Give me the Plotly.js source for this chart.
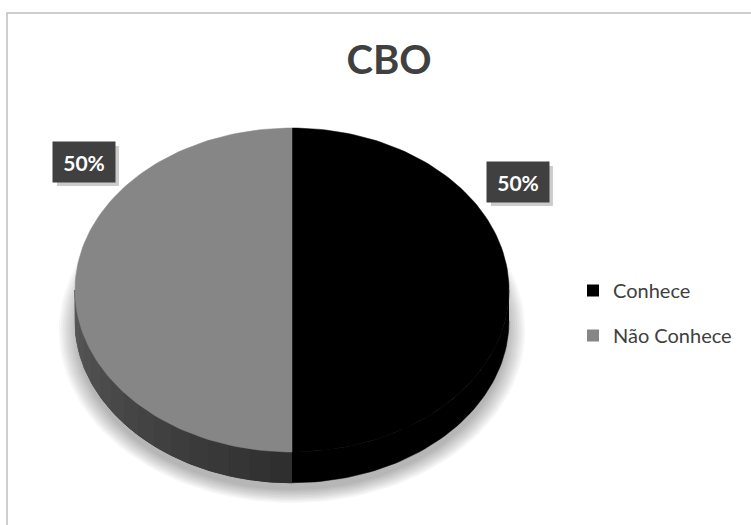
<!DOCTYPE html>
<html>
<head>
<meta charset="utf-8">
<script src="https://cdn.plot.ly/plotly-2.35.2.min.js"></script>
<style>html,body{margin:0;padding:0;background:#fff;}#chart{width:751px;height:525px;}</style>
</head>
<body>
<div id="chart"></div>
<script>
// ---- data ----
const categories = ["Conhece", "Não Conhece"];
const values = [50, 50];
const sliceColors = ["#000000", "#868686"];
const chartTitle = "CBO";

// ---- geometry (pseudo-3D ellipse via axis scaling) ----
const depth = 0.19;          // side thickness in y-units
const N = 120;
const total = values.reduce((a, b) => a + b, 0);
const traces = [];

function ellipsePts(cx, cy, rx, ry) {
  const xs = [], ys = [];
  for (let i = 0; i <= N; i++) {
    const t = 2 * Math.PI * i / N;
    xs.push(cx + rx * Math.cos(t)); ys.push(cy + ry * Math.sin(t));
  }
  return [xs, ys];
}

// soft shadow
for (let k = 0; k < 10; k++) {
  const [sx, sy] = ellipsePts(0.0, -0.25, 1.075 - k * 0.009, 1.065 - k * 0.009);
  traces.push({x: sx, y: sy, type: "scatter", mode: "lines", fill: "toself",
    fillcolor: "rgba(0,0,0,0.032)", line: {width: 0}, hoverinfo: "skip", showlegend: false});
}

// slice angles (start at 12 o'clock, clockwise)
const slices = [];
let cum = 0;
values.forEach((v, i) => {
  const a0 = 90 - 360 * cum / total;
  cum += v;
  const a1 = 90 - 360 * cum / total;
  slices.push({a0, a1, i});
});

function lerpColor(c1, c2, t) {
  const p = c => [1, 3, 5].map(j => parseInt(c.substr(j, 2), 16));
  const A = p(c1), B = p(c2);
  return "rgb(" + A.map((a, j) => Math.round(a + (B[j] - a) * t)).join(",") + ")";
}

function sidePoly(ah, al, m) {
  const xs = [], ys = [];
  for (let j = 0; j <= m; j++) { const a = (ah - (ah - al) * j / m) * Math.PI / 180; xs.push(Math.cos(a)); ys.push(Math.sin(a)); }
  for (let j = m; j >= 0; j--) { const a = (ah - (ah - al) * j / m) * Math.PI / 180; xs.push(Math.cos(a)); ys.push(Math.sin(a) - depth); }
  return [xs, ys];
}

// side walls (front part only, angles between -180 and 0)
slices.forEach(s => {
  const segs = [];
  for (let off = -360; off <= 360; off += 360) {
    const h = Math.min(s.a0 + off, 0), l = Math.max(s.a1 + off, -180);
    if (h > l) segs.push([h, l]);
  }
  segs.forEach(([h, l]) => {
    const base = s.i === 0 ? "#000000" : "#3c3c3c";
    const [bx, by] = sidePoly(h, l, 60);
    traces.push({x: bx, y: by, type: "scatter", mode: "lines", fill: "toself",
      fillcolor: base, line: {width: 0.5, color: base}, hoverinfo: "skip", showlegend: false});
    if (s.i !== 0) {
      const nb = 16;
      for (let b = 0; b < nb; b++) {
        const ah = h - (h - l) * b / nb, al = h - (h - l) * (b + 1) / nb;
        const [xs, ys] = sidePoly(ah, al, 6);
        const mid = (ah + al) / 2;
        const col = lerpColor("#5a5a5a", "#2e2e2e", Math.min(1, (mid + 180) / 90));
        traces.push({x: xs, y: ys, type: "scatter", mode: "lines", fill: "toself",
          fillcolor: col, line: {width: 1, color: col}, hoverinfo: "skip", showlegend: false});
      }
    }
  });
});

// top faces
slices.forEach(s => {
  const xs = [0], ys = [0];
  for (let j = 0; j <= N; j++) {
    const a = (s.a0 - (s.a0 - s.a1) * j / N) * Math.PI / 180;
    xs.push(Math.cos(a)); ys.push(Math.sin(a));
  }
  xs.push(0); ys.push(0);
  traces.push({x: xs, y: ys, type: "scatter", mode: "lines", fill: "toself",
    fillcolor: sliceColors[s.i], line: {width: 0.5, color: sliceColors[s.i]},
    name: categories[s.i], hoverinfo: "name", showlegend: false});
});

// legend proxies
categories.forEach((c, i) => {
  traces.push({x: [null], y: [null], type: "scatter", mode: "markers", name: c,
    legendgroup: "g" + i,
    marker: {symbol: "square", size: 12, color: sliceColors[i]}, showlegend: true});
});

// percentage labels
const pct = values.map(v => Math.round(100 * v / total) + "%");
const labelPos = [[1.041, 0.667], [-0.9585, 0.790]];
const annotations = [];
const shapes = [{type: "rect", xref: "paper", yref: "paper",
  x0: 7 / 751, x1: 1.05, y0: -0.05, y1: 1 - 13 / 525,
  line: {color: "#bfbfbf", width: 1.5}, fillcolor: "rgba(0,0,0,0)", layer: "below"}];
pct.forEach((t, i) => {
  shapes.push({type: "rect", xref: "x", yref: "y", xsizemode: "pixel", ysizemode: "pixel",
    xanchor: labelPos[i][0], yanchor: labelPos[i][1],
    x0: -31 + 4, x1: 31 + 4, y0: -20 - 4, y1: 20 - 4,
    fillcolor: "rgba(0,0,0,0.2)", line: {width: 0}, layer: "above"});
  annotations.push({x: labelPos[i][0], y: labelPos[i][1], xref: "x", yref: "y",
    text: "<b>" + t + "</b>", showarrow: false, width: 48, height: 26, borderpad: 7,
    font: {family: "Lato", size: 21, color: "#ffffff"},
    bgcolor: "#404040"});
});

const layout = {
  width: 751, height: 525,
  margin: {l: 0, r: 0, t: 0, b: 0},
  paper_bgcolor: "#ffffff", plot_bgcolor: "rgba(0,0,0,0)",
  title: {text: "<b>" + chartTitle + "</b>", x: 389 / 751, xanchor: "center",
    y: 1 - 60 / 525, yanchor: "middle",
    font: {family: "Lato", size: 40, color: "#404040"}},
  xaxis: {range: [-292 / 217, (751 - 292) / 217], visible: false, fixedrange: true},
  yaxis: {range: [(290 - 525) / 162, 290 / 162], visible: false, fixedrange: true},
  showlegend: true,
  legend: {x: 573 / 751, xanchor: "left", y: 1 - 313 / 525, yanchor: "middle",
    font: {family: "Lato", size: 20, color: "#404040"},
    tracegroupgap: 16, itemwidth: 30, bgcolor: "rgba(0,0,0,0)"},
  annotations: annotations,
  shapes: shapes
};

Plotly.newPlot("chart", traces, layout, {staticPlot: true, displayModeBar: false});
</script>
</body>
</html>
